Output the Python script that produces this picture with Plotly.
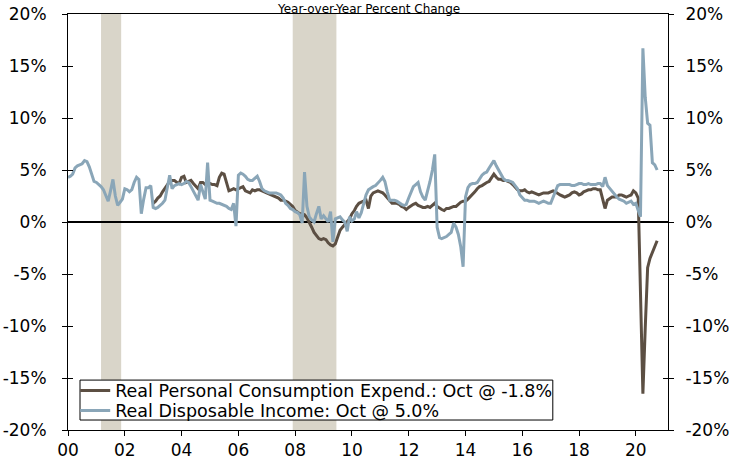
import plotly.graph_objects as go
import pandas as pd

# Real Disposable Income, YoY % change, monthly Jan-2000 .. Oct-2020
rdi = [
    4.3, 4.4, 4.6, 5.2, 5.4, 5.5, 5.6, 5.9, 5.8, 5.3, 4.5, 3.9,      # 2000
    3.8, 3.6, 3.4, 3.1, 2.5, 2.0, 3.0, 4.1, 2.5, 1.6, 1.9, 2.2,      # 2001
    3.2, 3.1, 2.9, 3.1, 3.8, 4.3, 4.1, 0.8, 2.2, 3.3, 3.3, 3.5,      # 2002
    1.4, 1.3, 1.4, 1.6, 1.8, 2.1, 3.3, 4.5, 3.2, 3.5, 3.6, 3.7,      # 2003
    3.6, 3.7, 3.9, 3.8, 3.4, 3.0, 2.5, 2.1, 3.6, 2.8, 2.2, 5.7,      # 2004
    2.1, 2.0, 1.9, 1.8, 1.8, 1.7, 1.6, 1.5, 1.3, 1.2, 1.8, -0.4,     # 2005
    4.5, 4.7, 4.6, 4.4, 4.1, 4.0, 4.0, 4.2, 4.4, 3.9, 3.2, 3.0,      # 2006
    2.9, 2.8, 2.8, 2.8, 2.8, 2.7, 2.6, 2.3, 1.8, 1.6, 1.3, 1.2,      # 2007
    1.0, 0.9, 0.7, -0.1, 4.8, 1.5, 0.5, 0.2, 0.0, 0.8, 1.5, 0.3,     # 2008
    0.6, 0.3, 0.0, 1.0, -1.9, 0.3, 0.4, 0.5, 0.2, 0.0, -0.9, 0.5,    # 2009
    0.1, 0.3, 1.0, 0.4, 0.9, 1.9, 2.6, 3.1, 3.3, 3.4, 3.5, 3.7,      # 2010
    4.0, 4.3, 3.9, 2.9, 2.1, 2.1, 2.1, 2.0, 1.8, 1.7, 1.6, 1.7,      # 2011
    2.3, 2.9, 3.4, 3.6, 3.8, 2.9, 2.4, 2.1, 2.9, 3.9, 5.0, 6.5,      # 2012
    -0.5, -1.5, -1.6, -1.5, -1.4, -1.2, -1.0, -0.1, -0.5, -1.2, -2.4, -4.3,  # 2013
    2.4, 3.3, 3.6, 3.7, 3.7, 3.8, 4.2, 4.5, 4.7, 4.8, 5.2, 5.6,      # 2014
    5.9, 5.4, 5.0, 4.5, 4.2, 4.0, 4.0, 3.9, 3.8, 3.5, 3.2, 2.6,      # 2015
    2.3, 2.1, 2.1, 2.0, 2.0, 2.0, 1.9, 1.8, 1.9, 2.0, 1.9, 1.8,      # 2016
    1.8, 2.4, 3.0, 3.5, 3.6, 3.6, 3.6, 3.6, 3.6, 3.5, 3.5, 3.6,      # 2017
    3.7, 3.7, 3.6, 3.6, 3.7, 3.6, 3.6, 3.6, 3.7, 3.7, 3.4, 4.3,      # 2018
    3.5, 3.2, 2.9, 2.6, 2.4, 2.2, 2.1, 2.0, 1.8, 1.9, 2.0, 1.7,      # 2019
    1.8, 1.1, 0.5, 16.7, 12.0, 9.5, 9.3, 5.7, 5.5, 5.0,              # 2020
]

# Real Personal Consumption Expenditures, YoY % change, monthly Jan-2003 .. Oct-2020
pce = [
    1.8, 2.0, 2.3, 2.5, 2.9, 3.2, 3.6, 3.9, 4.0, 4.0, 3.8, 3.7,      # 2003
    4.3, 4.4, 3.8, 3.9, 4.0, 3.7, 3.4, 3.2, 3.8, 3.8, 3.6, 3.7,      # 2004
    3.7, 3.6, 3.6, 3.5, 4.3, 4.7, 4.6, 3.8, 3.0, 3.1, 3.2, 3.1,      # 2005
    3.2, 3.3, 3.4, 3.0, 2.9, 2.8, 3.1, 3.0, 3.1, 3.1, 3.0, 2.9,      # 2006
    2.8, 2.7, 2.6, 2.5, 2.4, 2.3, 2.1, 2.1, 2.0, 1.9, 1.7, 1.5,      # 2007
    1.1, 0.9, 0.8, 0.8, 0.7, 0.4, 0.0, -0.5, -1.0, -1.3, -1.6, -1.7, # 2008
    -1.6, -1.7, -2.0, -2.2, -2.3, -2.1, -1.5, -0.8, -0.5, -0.2, 0.1, 0.3,  # 2009
    0.8, 1.1, 1.5, 1.8, 1.9, 2.0, 2.1, 1.3, 2.5, 2.8, 2.9, 3.0,      # 2010
    2.9, 2.8, 2.6, 2.3, 2.0, 1.8, 1.8, 1.8, 1.7, 1.5, 1.4, 1.2,      # 2011
    1.4, 1.6, 1.7, 1.8, 1.6, 1.5, 1.4, 1.4, 1.5, 1.4, 1.6, 1.8,      # 2012
    1.5, 1.3, 1.2, 1.1, 1.3, 1.3, 1.4, 1.5, 1.5, 1.7, 1.9, 2.0,      # 2013
    2.0, 2.2, 2.4, 2.7, 2.9, 3.2, 3.4, 3.5, 3.7, 3.8, 3.9, 4.3,      # 2014
    4.6, 4.3, 4.1, 4.1, 4.0, 4.0, 3.9, 3.8, 3.6, 3.4, 3.1, 3.0,      # 2015
    3.0, 3.1, 2.9, 2.8, 2.9, 2.8, 2.7, 2.6, 2.7, 2.8, 2.8, 2.8,      # 2016
    2.9, 3.0, 2.9, 2.7, 2.6, 2.5, 2.4, 2.5, 2.6, 2.8, 2.9, 2.8,      # 2017
    2.6, 2.7, 2.9, 3.0, 3.1, 3.1, 3.2, 3.2, 3.1, 3.1, 2.3, 1.3,      # 2018
    2.1, 2.3, 2.4, 2.4, 2.4, 2.6, 2.6, 2.5, 2.4, 2.5, 2.6, 3.0,      # 2019
    2.8, 2.3, -6.5, -16.5, -10.2, -4.4, -3.5, -2.9, -2.3, -1.8,      # 2020
]

rdi_start = "2000-01-01"
pce_start = "2003-01-01"
recessions = [("2001-03-01", "2001-11-15"), ("2007-12-01", "2009-06-15")]
y_ticks = [-20, -15, -10, -5, 0, 5, 10, 15, 20]
y_labels = [f"{v}%" for v in y_ticks]
x_tick_dates = [f"{y}-01-01" for y in range(2000, 2021, 2)]
x_tick_labels = ["00", "02", "04", "06", "08", "10", "12", "14", "16", "18", "20"]
x_range = ["2000-01-01", "2021-02-18"]

series_names = ["Real Personal Consumption Expend.: Oct @ -1.8%",
                "Real Disposable Income: Oct @ 5.0%"]
title_text = "Year-over-Year Percent Change"

BROWN = "#5c4f43"
BLUE = "#8aa6b8"
SHADE = "#d9d5c9"
FONT = "DejaVu Sans"

rdi_dates = pd.date_range(rdi_start, periods=len(rdi), freq="MS")
pce_dates = pd.date_range(pce_start, periods=len(pce), freq="MS")

fig = go.Figure()
fig.add_trace(go.Scatter(x=pce_dates, y=pce, mode="lines", name=series_names[0],
                         line=dict(color=BROWN, width=3), hoverinfo="skip",
                         legend="legend"))
fig.add_trace(go.Scatter(x=rdi_dates, y=rdi, mode="lines", name=series_names[1],
                         line=dict(color=BLUE, width=3), hoverinfo="skip",
                         legend="legend2"))

# invisible helper traces so the extra tick axes get drawn
for xa, ya in [("x", "y2"), ("x", "y3"), ("x", "y4"), ("x2", "y")]:
    fig.add_trace(go.Scatter(x=[None], y=[None], xaxis=xa, yaxis=ya,
                             showlegend=False, hoverinfo="skip", mode="lines"))

for start, end in recessions:
    fig.add_vrect(x0=start, x1=end, fillcolor=SHADE, opacity=1, line_width=0, layer="below")

# legend frame (white box with a thin border) behind the two legend rows
fig.add_shape(type="rect", xref="paper", yref="paper", x0=0.02, x1=0.808,
              y0=0.024, y1=0.12, fillcolor="white", line=dict(color="black", width=1),
              layer="above")

fig.add_annotation(text=title_text, xref="paper", yref="paper", x=0.5, y=1.0337,
                   xanchor="center", yanchor="top", showarrow=False,
                   font=dict(family=FONT, size=12, color="black"))

tickfont = dict(family=FONT, size=17, color="black")
legfont = dict(family=FONT, size=17.5, color="black")
common_y = dict(range=[-20, 20], tickvals=y_ticks, showgrid=False, ticklen=5,
                tickcolor="black", tickwidth=1, automargin=False)
leg_common = dict(xanchor="left", yanchor="middle", bgcolor="rgba(0,0,0,0)",
                  borderwidth=0, font=legfont, itemwidth=30, tracegroupgap=0)
fig.update_layout(
    width=729, height=466,
    margin=dict(l=68, r=61, t=14, b=36, autoexpand=False),
    plot_bgcolor="white", paper_bgcolor="white",
    font=dict(family=FONT, size=17, color="black"),
    showlegend=True,
    legend=dict(x=0.012, y=0.0945, **leg_common),
    legend2=dict(x=0.012, y=0.0464, **leg_common),
    xaxis=dict(range=x_range, tickvals=x_tick_dates, ticktext=x_tick_labels,
               ticks="outside", ticklen=5, tickcolor="black", showgrid=False,
               showline=True, linecolor="black", linewidth=1, mirror=True,
               tickfont=tickfont, zeroline=False, automargin=False),
    xaxis2=dict(range=x_range, overlaying="x", tickvals=x_tick_dates, ticks="inside",
                ticklen=5, tickcolor="black", showticklabels=False, showgrid=False,
                showline=False, zeroline=False, automargin=False),
    yaxis=dict(**common_y, ticktext=y_labels, ticks="outside", side="left",
               showline=True, linecolor="black", linewidth=1, tickfont=tickfont,
               zeroline=True, zerolinecolor="black", zerolinewidth=1.5,
               ticklabelstandoff=12),
    yaxis2=dict(**common_y, ticktext=y_labels, ticks="outside", side="right",
                overlaying="y", showline=True, linecolor="black", linewidth=1,
                tickfont=tickfont, zeroline=False, ticklabelstandoff=8),
    yaxis3=dict(**common_y, ticks="inside", side="left", overlaying="y",
                showticklabels=False, showline=False, zeroline=False),
    yaxis4=dict(**common_y, ticks="inside", side="right", overlaying="y",
                showticklabels=False, showline=False, zeroline=False),
)

fig.write_html("out.html", config={"displayModeBar": False},
               post_script="document.body.style.margin='0px';")
